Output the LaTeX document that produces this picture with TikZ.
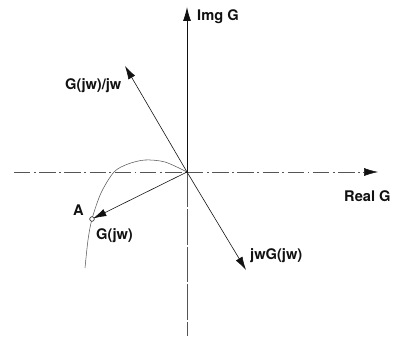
\documentclass[tikz,border=0pt]{standalone}
\usepackage{fontspec}
\setmainfont{TeX Gyre Heros}
\usetikzlibrary{arrows.meta}
\definecolor{ink}{HTML}{111111}
\definecolor{axisgray}{HTML}{555555}

\begin{document}
\begin{tikzpicture}[
  x=0.03cm, y=-0.03cm,
  font=\fontsize{12.5}{14}\selectfont\bfseries,
  vec/.style={-{Latex[length=4mm,width=2.3mm]}, line width=0.5pt, draw=ink},
  axis/.style={-{Latex[length=4.2mm,width=2.4mm]}, line width=0.7pt, draw=ink},
  dashaxis/.style={line width=0.45pt, draw=axisgray,
                   dash pattern=on 14pt off 3pt on 1.5pt off 3pt},
  lbl/.style={text=ink, inner sep=0pt}
]
\useasboundingbox (0,0) rectangle (397,342);

% origin and vector tips
\coordinate (O) at (187,172);
\coordinate (imgtip) at (187,7);
\coordinate (realtip) at (378,172);
\coordinate (realstart) at (14,172);
\coordinate (imgbot) at (187,336);
\coordinate (divtip) at (125,66);
\coordinate (multip) at (246,270);
\coordinate (A) at (92,219);

% axes
\draw[axis] (O) -- (imgtip);
\draw[line width=0.4pt, draw=axisgray, dash pattern=on 30pt off 2pt] (O) -- (imgbot);
\draw[dashaxis] (realstart) -- (O);
\draw[dashaxis, -{Latex[length=4.2mm,width=2.4mm,color=ink]}] (O) -- (realtip);

% locus
\draw[line width=0.45pt, draw=axisgray] plot[smooth, tension=0.5]
  coordinates {(85,268) (88,240) (92,219) (101,193) (114,172) (128,164)
               (145,160) (165,162) (187,172)};

% vectors
\draw[vec] (O) -- (divtip);
\draw[vec] (O) -- (multip);
\draw[vec, shorten >=1pt] (O) -- (A);
\node[draw=ink, circle, inner sep=0pt, minimum size=4pt, line width=0.5pt, fill=white] (Apt) at (A) {};

% labels
\node[lbl, anchor=west] (imglbl) at (197,17) {Img G};
\node[lbl, anchor=west] (reallbl) at (344,196) {Real G};
\node[lbl, anchor=west] (divlbl) at (65,86) {G(jw)/jw};
\node[lbl, anchor=west] (albl) at (73,210) {A};
\node[lbl, anchor=west] (glbl) at (96,236) {G(jw)};
\node[lbl, anchor=west] (mullbl) at (250,256) {jwG(jw)};

\end{tikzpicture}
\end{document}
